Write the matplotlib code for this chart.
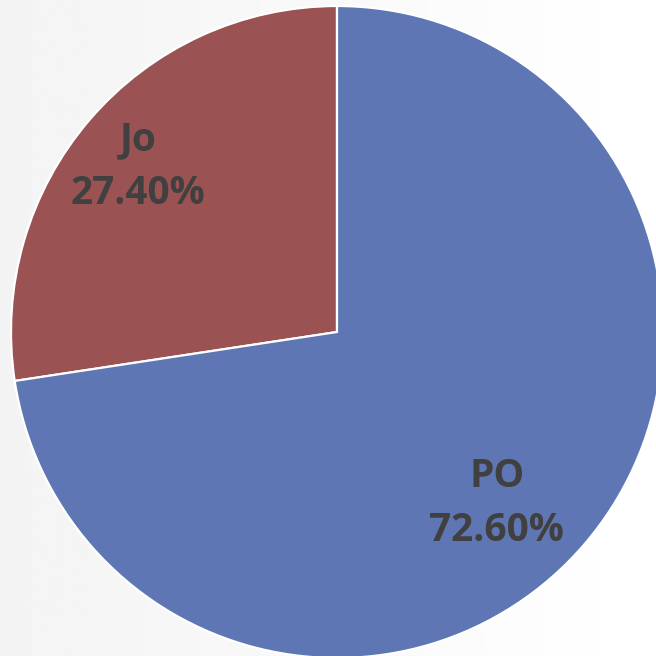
import numpy as np
import matplotlib
matplotlib.use('Agg')
import matplotlib.pyplot as plt

# Slice data
labels = ['Jo', 'PO']
shares = [27.40, 72.60]
colors = ['#9B5252', '#5F76B4']
label_dist = [0.793, 0.719]
label_shift = [1.0, -6.3]  # degrees nudge for label placement

fig = plt.figure(figsize=(6.56, 6.56), dpi=100)

# Light grey to white background gradient
bg = fig.add_axes([0, 0, 1, 1])
grad = np.linspace(0.955, 1.0, 256).reshape(1, -1)
bg.imshow(grad, cmap='gray', vmin=0, vmax=1, aspect='auto', extent=[0, 1, 0, 1])
bg.axis('off')

ax = fig.add_axes([0, 0, 1, 1])
ax.patch.set_alpha(0)
wedges, _ = ax.pie(shares, colors=colors, startangle=90, counterclock=True,
                   wedgeprops=dict(edgecolor='white', linewidth=1.6))

# Put the labels inside each slice
for w, lab, val, d, s in zip(wedges, labels, shares, label_dist, label_shift):
    ang = np.deg2rad((w.theta1 + w.theta2) / 2 + s)
    x, y = d * np.cos(ang), d * np.sin(ang)
    ax.text(x, y, f"{lab}\n{val:.2f}%", ha='center', va='center',
            fontsize=28, fontweight='bold', family='Open Sans', color='#404040',
            linespacing=1.5)

ax.set_xlim(-337 / 326, (656 - 337) / 326)
ax.set_ylim(-(656 - 332) / 326, 332 / 326)
ax.set_aspect('auto')
ax.axis('off')

fig.savefig('out.png', dpi=100)
